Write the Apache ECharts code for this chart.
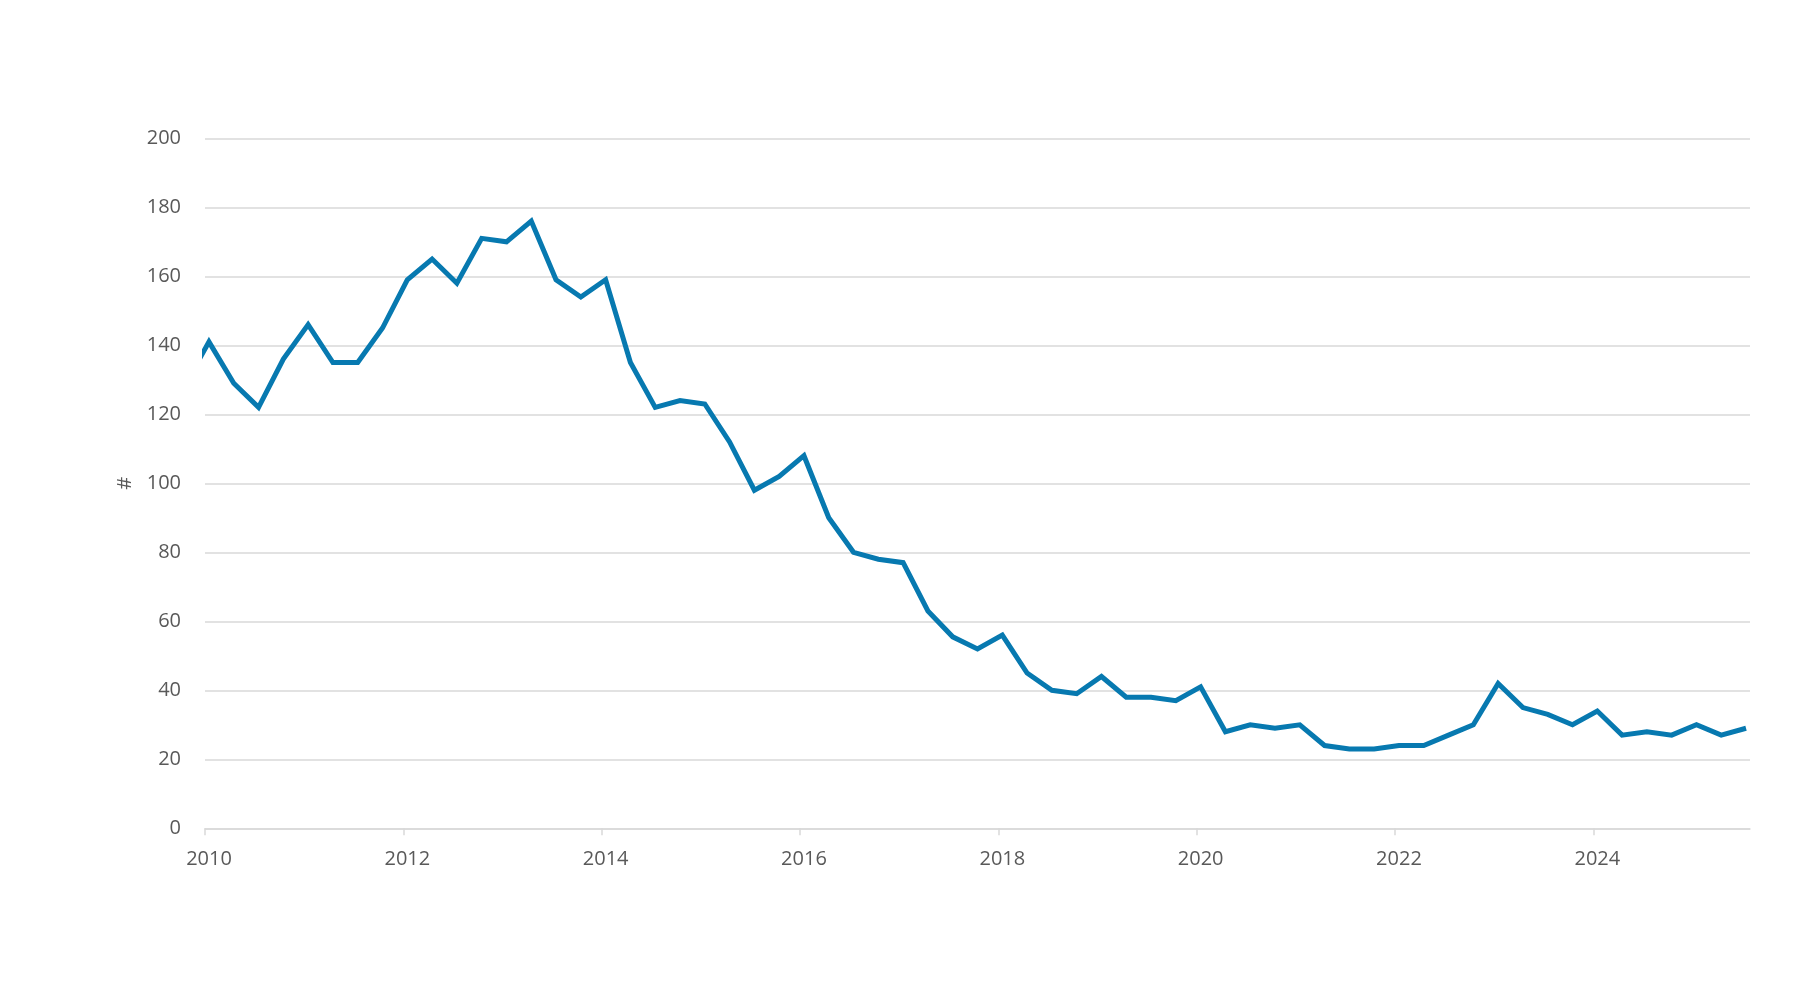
<!DOCTYPE html>
<html>
<head>
<meta charset="utf-8">
<script src="https://cdn.jsdelivr.net/npm/echarts@6/dist/echarts.min.js"></script>
<style>
html,body{margin:0;padding:0;background:#fff;}
#chart{width:1800px;height:1002px;}
</style>
</head>
<body>
<div id="chart"></div>
<script>
// Quarterly observations (first one lies just before the axis start and is clipped)
const quarters = [
  '2009Q4',
  '2010Q1','2010Q2','2010Q3','2010Q4',
  '2011Q1','2011Q2','2011Q3','2011Q4',
  '2012Q1','2012Q2','2012Q3','2012Q4',
  '2013Q1','2013Q2','2013Q3','2013Q4',
  '2014Q1','2014Q2','2014Q3','2014Q4',
  '2015Q1','2015Q2','2015Q3','2015Q4',
  '2016Q1','2016Q2','2016Q3','2016Q4',
  '2017Q1','2017Q2','2017Q3','2017Q4',
  '2018Q1','2018Q2','2018Q3','2018Q4',
  '2019Q1','2019Q2','2019Q3','2019Q4',
  '2020Q1','2020Q2','2020Q3','2020Q4',
  '2021Q1','2021Q2','2021Q3','2021Q4',
  '2022Q1','2022Q2','2022Q3','2022Q4',
  '2023Q1','2023Q2','2023Q3','2023Q4',
  '2024Q1','2024Q2','2024Q3','2024Q4',
  '2025Q1','2025Q2','2025Q3'
];
const values = [
  128,
  141,129,122,136,
  146,135,135,145,
  159,165,158,171,
  170,176,159,154,
  159,135,122,124,
  123,112,98,102,
  108,90,80,78,
  77,63,55.5,52,
  56,45,40,39,
  44,38,38,37,
  41,28,30,29,
  30,24,23,23,
  24,24,27,30,
  42,35,33,30,
  34,27,28,27,
  30,27,29
];
const yearTicks = [2010,2012,2014,2016,2018,2020,2022,2024];
const yTicks = [0,20,40,60,80,100,120,140,160,180,200];

// quarter label -> decimal year (observation dated mid-first-month of quarter)
function quarterToYear(q){
  const y = parseInt(q.slice(0,4),10);
  const n = parseInt(q.slice(5),10);
  return y + (n-1)*0.25 + 0.04;
}
const seriesData = quarters.map((q,i)=>[quarterToYear(q), values[i]]);

const textColor = '#595959';
const gridColor = '#d9d9d9';
const font = '"Open Sans", "Noto Sans", sans-serif';

const chart = echarts.init(document.getElementById('chart'), null, {renderer:'canvas'});
chart.setOption({
  backgroundColor:'#ffffff',
  animation:false,
  grid:{left:205, right:50, top:138.3, bottom:173.7, containLabel:false},
  xAxis:{
    type:'value',
    min:2010,
    max:2025.58,
    interval:2,
    axisLine:{show:true, lineStyle:{color:gridColor, width:1.5}},
    axisTick:{show:true, length:7, lineStyle:{color:gridColor, width:1.5}},
    splitLine:{show:false},
    axisLabel:{
      color:textColor, fontFamily:font, fontSize:20, margin:21,
      padding:[0,0,0,8],
      showMaxLabel:false,
      formatter:function(v){ return yearTicks.indexOf(Math.round(v))>=0 ? String(Math.round(v)) : ''; }
    }
  },
  yAxis:{
    type:'value',
    min:yTicks[0],
    max:yTicks[yTicks.length-1],
    interval:20,
    name:'#',
    nameLocation:'middle',
    nameRotate:90,
    nameGap:69,
    nameTextStyle:{color:textColor, fontFamily:font, fontSize:20},
    axisLine:{show:false},
    axisTick:{show:false},
    splitLine:{show:true, lineStyle:{color:gridColor, width:1.5}},
    axisLabel:{color:textColor, fontFamily:font, fontSize:20, margin:24}
  },
  series:[{
    type:'line',
    data:seriesData,
    showSymbol:false,
    clip:true,
    lineStyle:{color:'#0779b0', width:5, join:'miter'},
    itemStyle:{color:'#0779b0'}
  }]
});
</script>
</body>
</html>
